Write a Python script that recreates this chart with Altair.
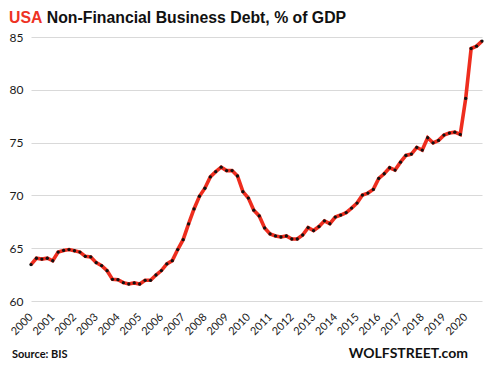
import altair as alt
import pandas as pd

years = list(range(2000, 2021))
quarters = ["Q1", "Q2", "Q3", "Q4"]
year_labels = [str(y) for y in years]

debt_pct = [
    63.45, 64.05, 63.97, 64.05,   # 2000
    63.81, 64.63, 64.79, 64.87,   # 2001
    64.76, 64.63, 64.23, 64.17,   # 2002
    63.63, 63.35, 62.87, 62.05,   # 2003
    62.02, 61.74, 61.61, 61.71,   # 2004
    61.61, 61.96, 61.96, 62.46,   # 2005
    62.88, 63.51, 63.82, 64.87,   # 2006
    65.81, 67.30, 68.72, 69.92,   # 2007
    70.68, 71.75, 72.25, 72.67,   # 2008
    72.35, 72.35, 71.84, 70.35,   # 2009
    69.75, 68.60, 68.06, 66.92,   # 2010
    66.35, 66.16, 66.06, 66.16,   # 2011
    65.87, 65.87, 66.25, 66.95,   # 2012
    66.67, 67.05, 67.59, 67.32,   # 2013
    67.95, 68.14, 68.37, 68.80,   # 2014
    69.27, 70.03, 70.22, 70.57,   # 2015
    71.61, 72.05, 72.62, 72.40,   # 2016
    73.15, 73.79, 73.91, 74.54,   # 2017
    74.29, 75.46, 74.98, 75.21,   # 2018
    75.71, 75.90, 75.99, 75.77,   # 2019
    79.18, 83.91, 84.13, 84.61,   # 2020
]
y_ticks = [60, 65, 70, 75, 80, 85]

title_red = "USA"
title_rest = "Non-Financial Business Debt, % of GDP"
source_text = "Source: BIS"
brand_text = "WOLFSTREET.com"

periods = [f"{y}-{q}" for y in years for q in quarters]
df = pd.DataFrame({"period": periods, "t": list(range(len(periods))), "debt": debt_pct})

label_expr = "[" + ",".join(f"'{s}'" for s in year_labels) + "][round(datum.value/4)]"

x_enc = alt.X(
    "t:Q",
    scale=alt.Scale(domain=[0, len(periods) - 1], nice=False, zero=False),
    axis=alt.Axis(
        values=list(range(0, len(periods), 4)),
        labelExpr=label_expr,
        labelAngle=-45,
        labelAlign="right",
        labelBaseline="middle",
        labelPadding=14,
        labelFont="Lato",
        labelFontSize=11,
        labelColor="#1a1a1a",
        grid=False,
        domain=False,
        ticks=False,
        title=None,
        labelOverlap=False,
        labelBound=False,
    ),
)
y_enc = alt.Y(
    "debt:Q",
    scale=alt.Scale(domain=[60, 85], nice=False, zero=False),
    axis=alt.Axis(
        values=y_ticks,
        labelFont="Lato",
        labelFontSize=12,
        labelColor="#1a1a1a",
        labelPadding=8,
        grid=True,
        gridColor="#d9d9d9",
        gridWidth=1,
        domain=False,
        ticks=False,
        title=None,
    ),
)

base = alt.Chart(df).encode(x=x_enc, y=y_enc)
line = base.mark_line(color="#ee2d1e", strokeWidth=3.6)
pts = base.mark_point(filled=True, color="#111111", size=11, opacity=1)

one = pd.DataFrame({"k": [0]})
title_a = alt.Chart(one).mark_text(
    text=title_red, font="Liberation Sans", fontSize=15.8, fontWeight="bold", color="#ee3224",
    align="left", baseline="alphabetic"
).encode(x=alt.value(-22), y=alt.value(-14.5))
title_b = alt.Chart(one).mark_text(
    text=title_rest, font="Liberation Sans", fontSize=15.8, fontWeight="bold", color="#111111",
    align="left", baseline="alphabetic"
).encode(x=alt.value(15.8), y=alt.value(-14.5))
source = alt.Chart(one).mark_text(
    text=source_text, font="Lato", fontSize=11, fontWeight="bold", color="#111111",
    align="left", baseline="alphabetic"
).encode(x=alt.value(-19), y=alt.value(321))
brand = alt.Chart(one).mark_text(
    text=brand_text, font="Lato", fontSize=14, fontWeight="bold", color="#111111",
    align="right", baseline="alphabetic"
).encode(x=alt.value(437), y=alt.value(321))

chart = alt.layer(line, pts, title_a, title_b, source, brand).properties(
    width=451,
    height=264,
    padding={"left": 23, "top": 29, "right": 2, "bottom": 59},
    autosize="none",
    background="white",
).configure_view(stroke=None).configure_axisX(labelOverlap=False)

chart.save("out.html", embed_options={"renderer": "svg", "actions": False})
